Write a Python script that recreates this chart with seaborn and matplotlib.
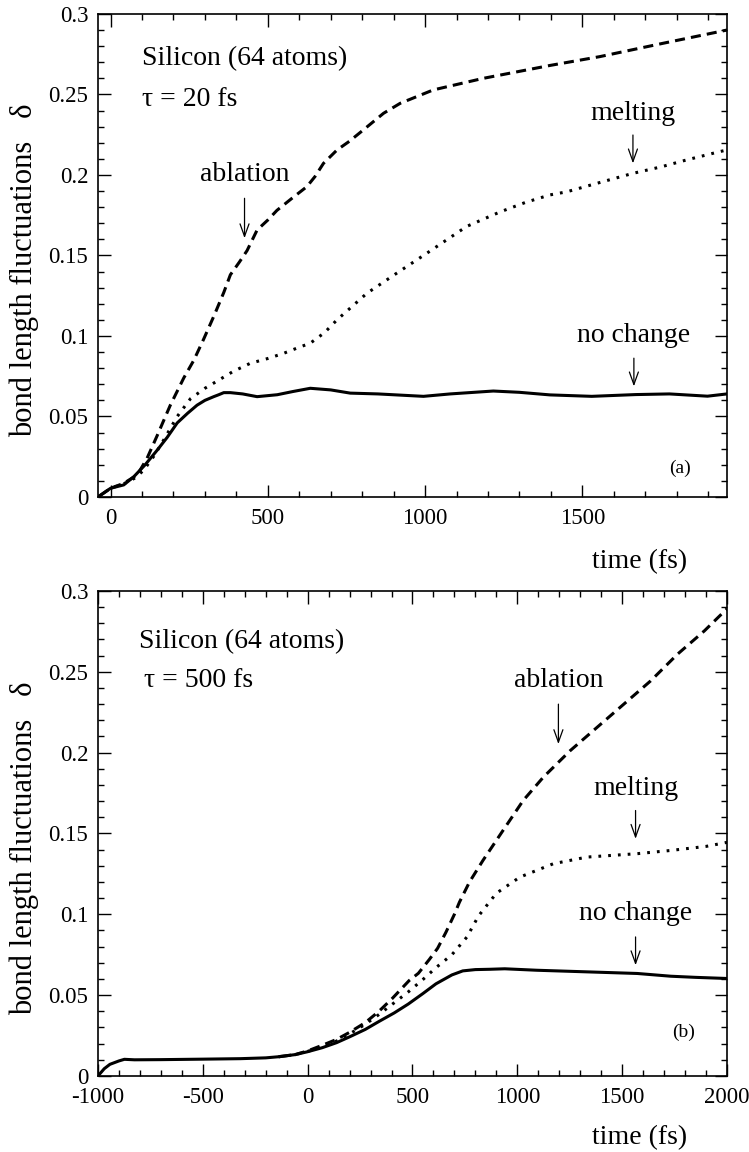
import numpy as np
import pandas as pd
import seaborn as sns
import matplotlib.pyplot as plt
from matplotlib.ticker import MultipleLocator, FormatStrFormatter

# ---- panel (a): tau = 20 fs ----
a_solid_t = [-40, 0, 42, 74, 110, 148, 180, 212, 245, 275, 300, 328, 344, 360, 381, 420, 466, 530,
             580, 635, 700, 762, 850, 995, 1080, 1217, 1300, 1397, 1530, 1670, 1777, 1898, 1960]
a_solid_d = [0, 0.0054, 0.0075, 0.0126, 0.02, 0.029, 0.037, 0.046, 0.052, 0.057, 0.06, 0.0623,
             0.0635, 0.0648, 0.0648, 0.064, 0.0623, 0.0635, 0.0655, 0.0675, 0.0665, 0.0645, 0.064,
             0.0625, 0.064, 0.0658, 0.065, 0.0634, 0.0625, 0.0636, 0.064, 0.0626, 0.064]

a_dash_t = [-40, 0, 42, 85, 116, 148, 190, 233, 265, 296, 330, 360, 381, 410, 434, 466, 500, 529,
            580, 624, 650, 677, 720, 760, 804, 868, 921, 1026, 1185, 1238, 1397, 1556, 1750, 1960]
a_dash_d = [0, 0.0054, 0.0085, 0.0137, 0.024, 0.038, 0.057, 0.074, 0.085, 0.098, 0.113, 0.127,
            0.138, 0.146, 0.153, 0.1658, 0.172, 0.178, 0.186, 0.1927, 0.199, 0.2072, 0.2155, 0.221,
            0.228, 0.2383, 0.2445, 0.2528, 0.26, 0.262, 0.268, 0.2735, 0.2815, 0.29]

a_dot_t = [-40, 0, 42, 80, 106, 140, 169, 212, 254, 300, 339, 390, 444, 500, 550, 600, 635, 680,
           720, 815, 910, 1005, 1132, 1238, 1320, 1397, 1450, 1550, 1661, 1750, 1831, 1937, 1960]
a_dot_d = [0, 0.0054, 0.0082, 0.012, 0.0168, 0.026, 0.0354, 0.05, 0.061, 0.0675, 0.072, 0.078,
           0.083, 0.086, 0.0892, 0.093, 0.0955, 0.102, 0.11, 0.1265, 0.139, 0.1513, 0.168, 0.177,
           0.183, 0.1876, 0.1895, 0.195, 0.201, 0.205, 0.2093, 0.2145, 0.2155]

# ---- panel (b): tau = 500 fs ----
b_solid_t = [-1000, -970, -943, -900, -874, -826, -700, -500, -321, -200, -138, -60, 0, 70, 138,
             200, 275, 340, 413, 480, 550, 612, 688, 740, 800, 870, 940, 1092, 1332, 1572, 1732,
             1850, 2000]
b_solid_d = [0, 0.0045, 0.0072, 0.0093, 0.0103, 0.01, 0.0101, 0.0104, 0.0107, 0.0112, 0.0119,
             0.0132, 0.015, 0.0175, 0.0206, 0.0242, 0.0288, 0.0337, 0.039, 0.0445, 0.051, 0.057,
             0.0625, 0.065, 0.0658, 0.066, 0.0663, 0.0654, 0.0644, 0.0634, 0.0617, 0.061, 0.0603]

b_dash_t = [-138, -60, 0, 70, 138, 200, 275, 340, 404, 484, 528, 580, 620, 660, 700, 724, 772, 836,
            932, 1028, 1124, 1252, 1380, 1508, 1636, 1764, 1892, 2000]
b_dash_d = [0.0119, 0.0132, 0.0155, 0.019, 0.0226, 0.027, 0.033, 0.04, 0.048, 0.059, 0.0635,
            0.072, 0.079, 0.089, 0.1, 0.1075, 0.12, 0.1333, 0.1519, 0.1704, 0.1848, 0.2012, 0.2156,
            0.23, 0.2444, 0.2609, 0.2753, 0.289]

b_dot_t = [-138, -60, 0, 70, 138, 200, 275, 340, 413, 480, 550, 612, 688, 760, 815, 900, 1012,
           1172, 1332, 1572, 1732, 1900, 2000]
b_dot_d = [0.0119, 0.0132, 0.0152, 0.018, 0.0216, 0.026, 0.032, 0.038, 0.0453, 0.052, 0.0597,
           0.067, 0.075, 0.086, 0.099, 0.113, 0.123, 0.1313, 0.1354, 0.1375, 0.1395, 0.142, 0.1445]

sns.set_style('ticks')
plt.rcParams['font.family'] = ['Liberation Serif', 'DejaVu Serif']
plt.rcParams['text.color'] = 'black'
plt.rcParams['axes.labelcolor'] = 'black'
plt.rcParams['xtick.color'] = 'black'
plt.rcParams['ytick.color'] = 'black'

fig = plt.figure(figsize=(7.49, 11.52), dpi=100)
axA = fig.add_axes([0.1308, 0.5686, 0.8398, 0.4193])
axB = fig.add_axes([0.1308, 0.0660, 0.8398, 0.4210])

LW = 2.2
DASH = (0, (3.3, 2.0))
DOT = (0, (0.9, 2.3))


def draw_curves(ax, solid, dash, dot):
    for (t, d), ls in ((dot, DOT), (dash, DASH), (solid, '-')):
        df = pd.DataFrame({'time': t, 'delta': d})
        sns.lineplot(data=df, x='time', y='delta', ax=ax, color='black', lw=LW,
                     linestyle=ls, sort=False, errorbar=None)


def label_arrow(ax, text, x, y_text, y0, y1):
    ax.text(x, y_text, text, ha='center', va='center', fontsize=20, color='black')
    ax.annotate('', xy=(x, y1), xytext=(x, y0),
                arrowprops=dict(arrowstyle='->,head_length=0.5,head_width=0.18',
                                lw=0.9, color='black', shrinkA=0, shrinkB=0,
                                mutation_scale=18))


def style_axes(ax, xlim, label_y):
    ax.set_xlim(*xlim)
    ax.set_ylim(0, 0.3)
    ax.xaxis.set_major_locator(MultipleLocator(500))
    ax.xaxis.set_minor_locator(MultipleLocator(100))
    ax.yaxis.set_major_locator(MultipleLocator(0.05))
    ax.yaxis.set_minor_locator(MultipleLocator(0.01))
    ax.yaxis.set_major_formatter(FormatStrFormatter('%g'))
    ax.xaxis.set_major_formatter(FormatStrFormatter('%g'))
    ax.tick_params(which='both', direction='in', top=True, right=True, width=1.0,
                   colors='black', labelsize=16.5)
    ax.tick_params(which='major', length=9)
    ax.tick_params(which='minor', length=4.5)
    ax.tick_params(axis='x', pad=8)
    ax.tick_params(axis='y', pad=7)
    for s in ax.spines.values():
        s.set_visible(True)
        s.set_linewidth(1.2)
        s.set_color('black')
    ax.set_xlabel('')
    ax.set_ylabel('')
    ax.text(-0.1176, 0.47, 'bond length fluctuations   δ', rotation=90, ha='center',
            va='center', fontsize=22, transform=ax.transAxes)
    ax.text(0.937, label_y, 'time (fs)', ha='right', va='center', fontsize=20,
            transform=ax.transAxes)


# panel (a)
draw_curves(axA, (a_solid_t, a_solid_d), (a_dash_t, a_dash_d), (a_dot_t, a_dot_d))
style_axes(axA, (-40, 1960), -64.7 / 483)
axA.text(100, 0.2725, 'Silicon (64 atoms)', ha='left', va='center', fontsize=20)
axA.text(100, 0.2466, 'τ = 20 fs', ha='left', va='center', fontsize=20)
label_arrow(axA, 'ablation', 426, 0.200, 0.1855, 0.1607)
label_arrow(axA, 'melting', 1661, 0.2383, 0.2248, 0.2072)
label_arrow(axA, 'no change', 1664, 0.100, 0.0862, 0.0687)
axA.text(1810, 0.0177, '(a)', ha='center', va='center', fontsize=14)

# panel (b)
draw_curves(axB, (b_solid_t, b_solid_d), (b_dash_t, b_dash_d), (b_dot_t, b_dot_d))
style_axes(axB, (-1000, 2000), -62 / 485)
axB.text(-803, 0.2688, 'Silicon (64 atoms)', ha='left', va='center', fontsize=20)
axB.text(-781, 0.2448, 'τ = 500 fs', ha='left', va='center', fontsize=20)
label_arrow(axB, 'ablation', 1196, 0.2444, 0.230, 0.2053)
label_arrow(axB, 'melting', 1564, 0.1776, 0.1642, 0.1467)
label_arrow(axB, 'no change', 1564, 0.1004, 0.086, 0.0685)
axB.text(1794, 0.0267, '(b)', ha='center', va='center', fontsize=14)

fig.savefig('out.png', dpi=100)
